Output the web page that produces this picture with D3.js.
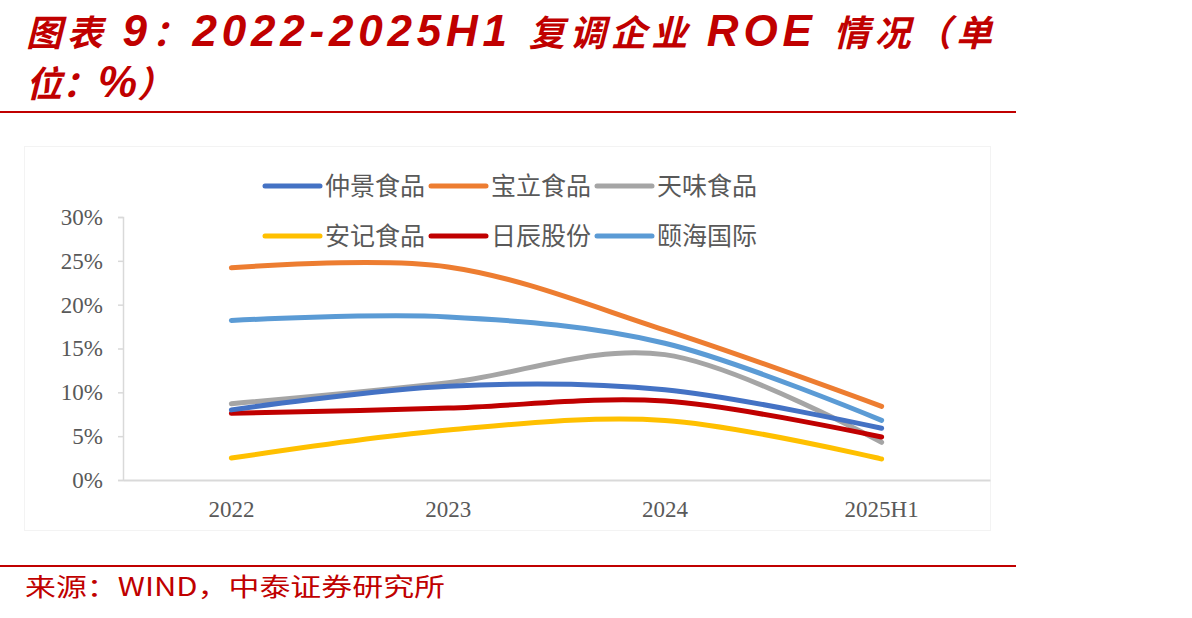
<!DOCTYPE html>
<html>
<head>
<meta charset="utf-8">
<script src="https://d3js.org/d3.v7.min.js"></script>
<style>
  body { margin: 0; background: #fff; }
  svg { display: block; }
</style>
</head>
<body>
<svg id="chart" width="1192" height="618"></svg>
<script>
// data
const years = ['2022', '2023', '2024', '2025H1'];
const companies = ['仲景食品', '宝立食品', '天味食品', '安记食品', '日辰股份', '颐海国际'];
const colors = ['#4472C4', '#ED7D31', '#A5A5A5', '#FFC000', '#C00000', '#5B9BD5'];
const zhongjing = [8.0, 10.7, 10.3, 5.9];
const baoli = [24.2, 24.3, 17.1, 8.4];
const tianwei = [8.7, 11.1, 14.3, 4.3];
const anji = [2.5, 5.7, 6.8, 2.4];
const richen = [7.6, 8.2, 9.0, 4.9];
const yihai = [18.2, 18.6, 15.6, 6.8];
const yTicks = [0, 5, 10, 15, 20, 25, 30];

const series = [zhongjing, baoli, tianwei, anji, richen, yihai];
// draw order: grey first so the others sit on top like the original
const drawOrder = [2, 3, 4, 0, 5, 1];

const svg = d3.select('#chart');
const red = '#C00000';

// title: latin bits are bigger than the chinese ones in the original
const titleParts1 = [['图表 ', 36], ['9', 44], ['：', 36], ['2022-2025H1 ', 44],
    ['复调企业 ', 36], ['ROE ', 44], ['情况（单', 36]];
const title = svg.append('text')
    .attr('fill', red)
    .attr('font-family', '"Liberation Sans", "Noto Sans CJK SC", sans-serif')
    .attr('font-weight', 'bold')
    .attr('font-style', 'italic');
const line1 = title.append('tspan').attr('x', 26).attr('y', 46)
    .attr('textLength', 966).attr('lengthAdjust', 'spacing');
titleParts1.forEach(p => line1.append('tspan').attr('font-size', p[1]).text(p[0]));
const line2 = title.append('tspan').attr('x', 26).attr('y', 97);
line2.append('tspan').attr('font-size', 36).text('位：');
line2.append('tspan').attr('font-size', 44).text('%');
line2.append('tspan').attr('font-size', 36).text('）');

svg.append('rect').attr('x', 0).attr('y', 111).attr('width', 1016).attr('height', 2).attr('fill', red);
svg.append('rect').attr('x', 0).attr('y', 565).attr('width', 1016).attr('height', 2).attr('fill', red);

svg.append('text')
    .attr('x', 25).attr('y', 596)
    .attr('fill', red)
    .attr('font-family', '"Noto Sans CJK SC", sans-serif')
    .attr('font-size', 25)
    .attr('textLength', 420).attr('lengthAdjust', 'spacingAndGlyphs')
    .text('来源：WIND，中泰证券研究所');

// chart frame
svg.append('rect')
    .attr('x', 24.5).attr('y', 146.5).attr('width', 966).attr('height', 384)
    .attr('fill', 'none').attr('stroke', '#f3f3f3');

const x = d3.scaleBand().domain(years).range([123, 990]);
const y = d3.scaleLinear().domain([0, 30]).range([480, 217]);

const g = svg.append('g');

// y axis
const yAxis = g.append('g')
    .attr('transform', 'translate(123,0)')
    .call(d3.axisLeft(y).tickValues(yTicks).tickSize(5).tickFormat(d => d + '%'));
yAxis.select('.domain').attr('stroke', '#d9d9d9').attr('stroke-width', 1.5);
yAxis.selectAll('.tick line').attr('stroke', '#d9d9d9').attr('stroke-width', 1.5);
yAxis.selectAll('.tick text')
    .attr('x', -20)
    .attr('fill', '#595959')
    .attr('font-family', '"Liberation Serif", "Times New Roman", serif')
    .attr('font-size', 23);

// x axis
const xAxis = g.append('g')
    .attr('transform', 'translate(0,480)')
    .call(d3.axisBottom(x).tickSize(0).tickPadding(21));
xAxis.select('.domain').attr('stroke', '#d9d9d9').attr('stroke-width', 2);
xAxis.selectAll('.tick text')
    .attr('fill', '#595959')
    .attr('font-family', '"Liberation Serif", "Times New Roman", serif')
    .attr('font-size', 23);

// lines
const line = d3.line()
    .x((d, i) => x(years[i]) + x.bandwidth() / 2)
    .y(d => y(d))
    .curve(d3.curveCardinal.tension(0));

g.append('g').selectAll('path')
    .data(drawOrder)
    .join('path')
    .attr('d', k => line(series[k]))
    .attr('fill', 'none')
    .attr('stroke', k => colors[k])
    .attr('stroke-width', 5)
    .attr('stroke-linecap', 'round');

// legend
const legend = svg.append('g');
const legX = [265, 431, 597];
const legY = [186, 236];
companies.forEach((name, i) => {
    const lx = legX[i % 3], ly = legY[Math.floor(i / 3)];
    legend.append('line')
        .attr('x1', lx).attr('x2', lx + 55)
        .attr('y1', ly).attr('y2', ly)
        .attr('stroke', colors[i]).attr('stroke-width', 5)
        .attr('stroke-linecap', 'round');
    legend.append('text')
        .attr('x', lx + 60).attr('y', ly + 9)
        .attr('fill', '#595959')
        .attr('font-family', '"Noto Sans CJK SC", sans-serif')
        .attr('font-size', 25)
        .text(name);
});
</script>
</body>
</html>
